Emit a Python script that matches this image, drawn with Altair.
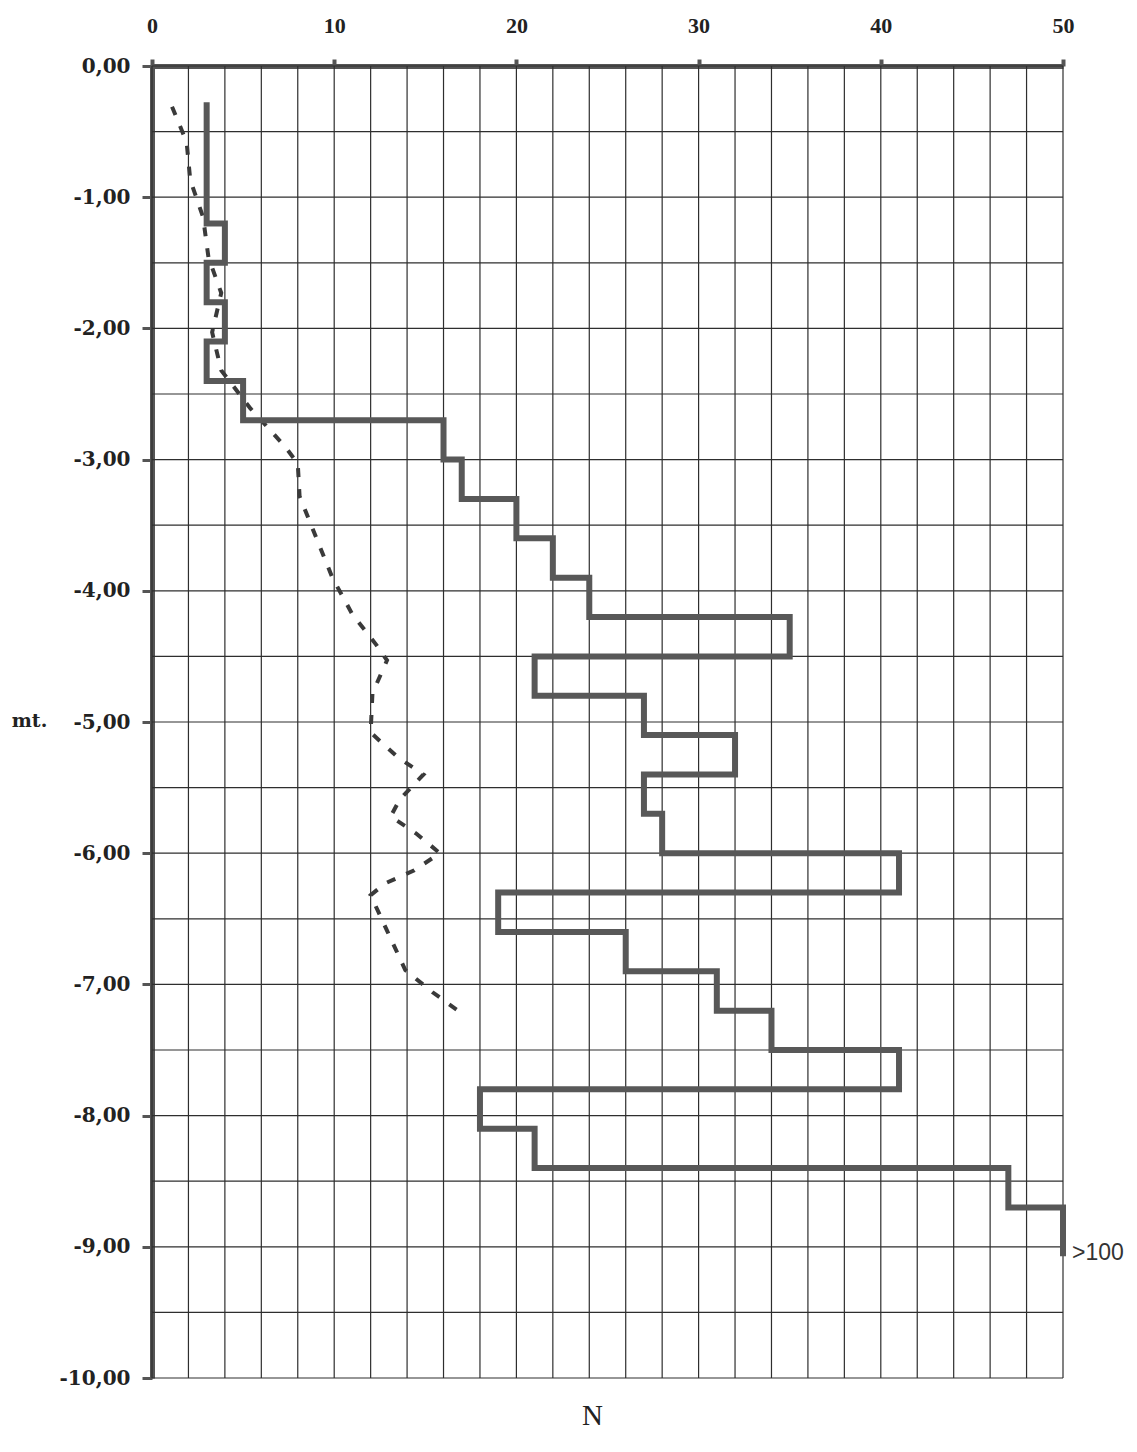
import altair as alt
import pandas as pd

# ---- data ----
n_ticks = [0, 10, 20, 30, 40, 50]
depth_ticks = [0, -1, -2, -3, -4, -5, -6, -7, -8, -9, -10]
grid_n = list(range(0, 51, 2))
grid_depth = [-0.5 * i for i in range(21)]

# SPT blow counts (solid step line): top of each interval (m) and N
step_top = [0.3, 1.2, 1.5, 1.8, 2.1, 2.4, 2.7, 3.0, 3.3, 3.6, 3.9, 4.2, 4.5, 4.8,
            5.1, 5.4, 5.7, 6.0, 6.3, 6.6, 6.9, 7.2, 7.5, 7.8, 8.1, 8.4, 8.7]
step_bottom = step_top[1:] + [9.05]
step_n = [3, 4, 3, 4, 3, 5, 16, 17, 20, 22, 24, 35, 21, 27,
          32, 27, 28, 41, 19, 26, 31, 34, 41, 18, 21, 47, 50]

# dashed curve
dash_n = [1.1, 1.9, 2.1, 2.8, 3.1, 3.8, 3.3, 3.8, 5.4, 7.3, 8.0, 8.1, 9.0, 9.9, 11.0,
          12.3, 12.9, 12.1, 12.0, 13.5, 14.9, 13.6, 13.1, 14.5, 15.8, 14.4, 12.8,
          12.0, 12.9, 13.9, 15.4, 16.8]
dash_depth = [-0.31, -0.58, -0.87, -1.15, -1.46, -1.73, -2.03, -2.32, -2.61, -2.90,
              -3.03, -3.28, -3.59, -3.90, -4.18, -4.41, -4.53, -4.78, -5.08, -5.27,
              -5.40, -5.59, -5.72, -5.85, -6.00, -6.13, -6.23, -6.32, -6.59, -6.89,
              -7.06, -7.20]

end_label = [">100"]

# ---- tables ----
rows = []
for i, (t, b, n) in enumerate(zip(step_top, step_bottom, step_n)):
    rows.append({"order": 2 * i, "N": n, "depth": -t})
    rows.append({"order": 2 * i + 1, "N": n, "depth": -b})
step_df = pd.DataFrame(rows)
dash_df = pd.DataFrame({"order": list(range(len(dash_n))), "N": dash_n, "depth": dash_depth})
vgrid_df = pd.DataFrame({"N": grid_n, "depth": [0] * len(grid_n), "depth2": [-10] * len(grid_n)})
hgrid_df = pd.DataFrame({"depth": grid_depth, "N": [0] * len(grid_depth), "N2": [50] * len(grid_depth)})
label_df = pd.DataFrame({"N": [step_n[-1]], "depth": [-step_bottom[-1]], "label": end_label})

xscale = alt.Scale(domain=[0, 50], nice=False, zero=False)
yscale = alt.Scale(domain=[-10, 0], nice=False, zero=False)

AXC = "#555555"
xaxis = alt.Axis(orient="top", values=n_ticks, format="d", grid=False,
                 labelFont="Liberation Serif", labelFontWeight="bold", labelFontSize=22,
                 labelColor="#222222", labelPadding=22, labelFlush=False,
                 tickSize=7, tickWidth=4, tickColor=AXC,
                 domainWidth=5, domainColor=AXC,
                 title="N", titleFont="Liberation Serif", titleFontWeight="normal",
                 titleFontSize=29, titleColor="#222222", titleX=440, titleY=1349,
                 titleAlign="center", titleBaseline="middle", titleAngle=0)
yaxis = alt.Axis(orient="left", values=depth_ticks, grid=False,
                 labelExpr="(datum.value < 0 ? '-' : '') + replace(format(abs(datum.value), '.2f'), '.', ',')",
                 labelFont="DejaVu Serif", labelFontWeight="bold", labelFontSize=20,
                 labelColor="#222222", labelPadding=12, labelFlush=False,
                 tickSize=10, tickWidth=3, tickColor=AXC,
                 domainWidth=5, domainColor=AXC,
                 title="mt.", titleFont="DejaVu Serif", titleFontWeight="bold",
                 titleFontSize=19, titleColor="#222222", titleAngle=0,
                 titleX=-123, titleY=654, titleAlign="center", titleBaseline="middle")

X = lambda f="N": alt.X(f"{f}:Q", scale=xscale, axis=xaxis)
Y = lambda f="depth": alt.Y(f"{f}:Q", scale=yscale, axis=yaxis)

vgrid = alt.Chart(vgrid_df).mark_rule(color="#2e2e2e", strokeWidth=1.2).encode(
    x=X(), y=Y(), y2="depth2:Q")
hgrid = alt.Chart(hgrid_df).mark_rule(color="#2e2e2e", strokeWidth=1.2).encode(
    x=X(), x2="N2:Q", y=Y())
dashed = alt.Chart(dash_df).mark_line(color="#3a3a3a", strokeWidth=4,
                                      strokeDash=[9, 12], interpolate="linear").encode(
    x=X(), y=Y(), order="order:Q")
steps = alt.Chart(step_df).mark_line(color="#585858", strokeWidth=6,
                                     strokeJoin="miter", strokeCap="square").encode(
    x=X(), y=Y(), order="order:Q")
txt = alt.Chart(label_df).mark_text(align="left", baseline="middle", dx=9,
                                    font="Liberation Sans", fontSize=23,
                                    color="#333333").encode(
    x=X(), y=Y(), text="label:N")

chart = alt.layer(vgrid, hgrid, dashed, steps, txt).properties(
    width=911, height=1312,
    autosize=alt.AutoSizeParams(type="none"),
    padding={"left": 144, "top": 58, "right": 66, "bottom": 66},
    background="white",
).configure_view(stroke=None)

chart.save("out.html", embed_options={"renderer": "svg", "actions": False})
